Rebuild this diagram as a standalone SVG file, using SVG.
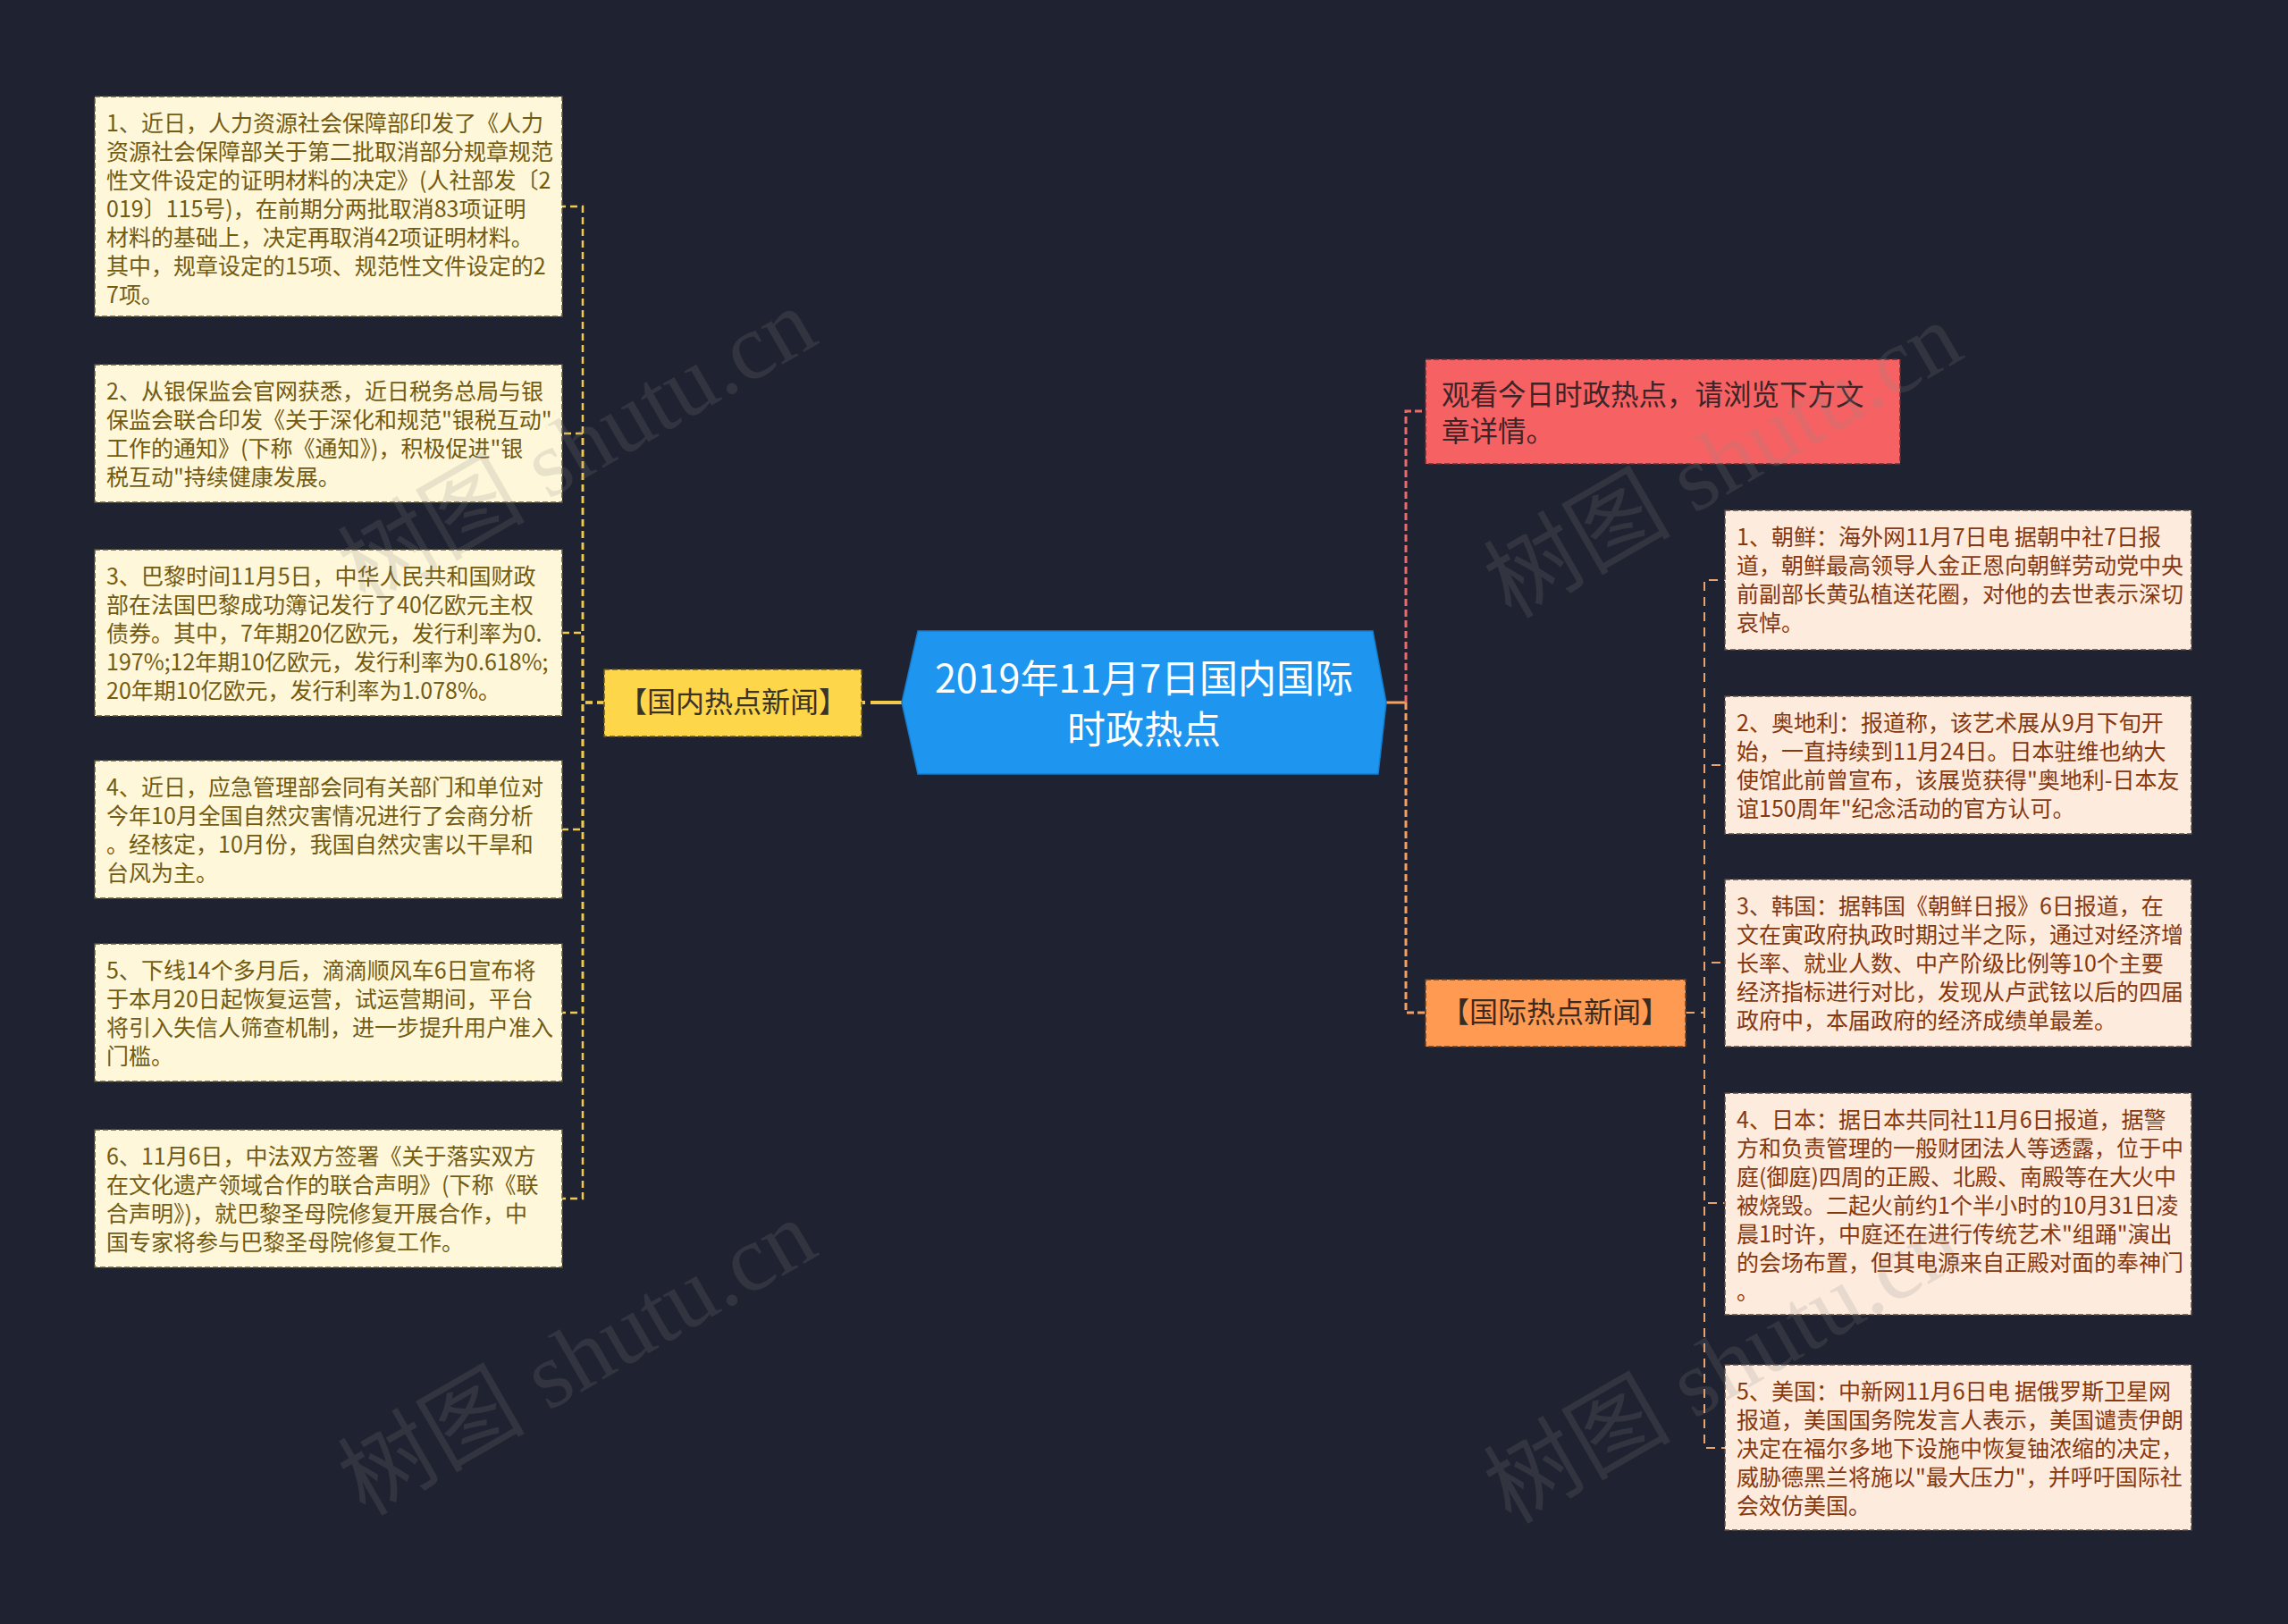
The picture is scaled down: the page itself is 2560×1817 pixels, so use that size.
<svg xmlns="http://www.w3.org/2000/svg" width="2560" height="1817" viewBox="0 0 2560 1817">
<style>
.bg{fill:#1F2230}
.t{font-family:"Noto Sans CJK SC","Noto Sans",sans-serif}
.lbox{fill:#FEF7DA;stroke:#5E5536;stroke-width:1.5;stroke-dasharray:6 3}
.rbox{fill:#FDEBDD;stroke:#5E4A40;stroke-width:1.5;stroke-dasharray:6 3}
.lt{font-size:25px;fill:#735B12}
.rt{font-size:25px;fill:#86380F}
.cl{fill:none;stroke:#F0C94D;stroke-width:2.5;stroke-dasharray:8 5}
.cr{fill:none;stroke:#EE6A6A;stroke-width:3;stroke-dasharray:8 4}
.co{fill:none;stroke:#F4A062;stroke-width:3;stroke-dasharray:8 4}
.cp{fill:none;stroke:#E9A36E;stroke-width:2;stroke-dasharray:10 7}
.wm{font-family:"Liberation Serif","Noto Sans CJK SC",serif;font-size:105px;fill:#8a8a8a;opacity:0.18}
</style>
<rect class="bg" x="0" y="0" width="2560" height="1817"/>

<g id="connectors">
  <line x1="964" y1="786" x2="1009" y2="786" stroke="#F0C94D" stroke-width="4" stroke-dasharray="4 6 40"/>
  <path class="cl" d="M676,786 H652 V231 H629"/>
  <path class="cl" d="M676,786 H652 V485 H629"/>
  <path class="cl" d="M676,786 H652 V708 H629"/>
  <path class="cl" d="M676,786 H652 V928 H629"/>
  <path class="cl" d="M676,786 H652 V1133 H629"/>
  <path class="cl" d="M676,786 H652 V1341 H629"/>
  <line x1="1551" y1="786" x2="1573" y2="786" stroke="#F4A062" stroke-width="3"/>
  <path class="cr" d="M1573,786 V460 H1595"/>
  <path class="co" d="M1573,786 V1133 H1595"/>
  <path class="cp" d="M1886,1133 H1907 V649 H1930"/>
  <path class="cp" d="M1886,1133 H1907 V856 H1930"/>
  <path class="cp" d="M1886,1133 H1907 V1077 H1930"/>
  <path class="cp" d="M1886,1133 H1907 V1346 H1930"/>
  <path class="cp" d="M1886,1133 H1907 V1620 H1930"/>
</g>

<g id="root">
  <polygon points="1027,706 1536,706 1551,786 1542,866 1027,866 1009,786" fill="#1E96F0" stroke="#167CCB" stroke-width="1.5"/>
  <text class="t" x="1280" y="775" font-size="43" fill="#FFFFFF" text-anchor="middle">2019年11月7日国内国际</text>
  <text class="t" x="1280" y="832" font-size="43" fill="#FFFFFF" text-anchor="middle">时政热点</text>
</g>

<g id="domestic">
  <rect x="676" y="749" width="288" height="75" fill="#FDD64A" stroke="#6A5520" stroke-width="1.5" stroke-dasharray="6 3"/>
  <text class="t" x="820" y="797" font-size="32" fill="#3A3326" text-anchor="middle">【国内热点新闻】</text>
</g>

<g id="intro">
  <rect x="1595" y="402" width="531" height="117" fill="#F66264" stroke="#6A3034" stroke-width="1.5" stroke-dasharray="6 3"/>
  <text class="t" font-size="31.5" fill="#3D2427"><tspan x="1613" y="453">观看今日时政热点，请浏览下方文</tspan><tspan x="1613" y="494">章详情。</tspan></text>
</g>

<g id="international">
  <rect x="1595" y="1096" width="291" height="75" fill="#FE9A52" stroke="#6A4020" stroke-width="1.5" stroke-dasharray="6 3"/>
  <text class="t" x="1740" y="1144" font-size="32" fill="#3A2B20" text-anchor="middle">【国际热点新闻】</text>
</g>

<g id="d1">
  <rect class="lbox" x="106" y="108" width="523" height="246"/>
  <text class="t lt"><tspan x="119" y="146.5">1、近日，人力资源社会保障部印发了《人力</tspan><tspan x="119" y="178.5">资源社会保障部关于第二批取消部分规章规范</tspan><tspan x="119" y="210.5">性文件设定的证明材料的决定》(人社部发〔2</tspan><tspan x="119" y="242.5">019〕115号)，在前期分两批取消83项证明</tspan><tspan x="119" y="274.5">材料的基础上，决定再取消42项证明材料。</tspan><tspan x="119" y="306.5">其中，规章设定的15项、规范性文件设定的2</tspan><tspan x="119" y="338.5">7项。</tspan></text>
</g>
<g id="d2">
  <rect class="lbox" x="106" y="408" width="523" height="154"/>
  <text class="t lt"><tspan x="119" y="446.5">2、从银保监会官网获悉，近日税务总局与银</tspan><tspan x="119" y="478.5">保监会联合印发《关于深化和规范"银税互动"</tspan><tspan x="119" y="510.5">工作的通知》(下称《通知》)，积极促进"银</tspan><tspan x="119" y="542.5">税互动"持续健康发展。</tspan></text>
</g>
<g id="d3">
  <rect class="lbox" x="106" y="615" width="523" height="186"/>
  <text class="t lt"><tspan x="119" y="653.5">3、巴黎时间11月5日，中华人民共和国财政</tspan><tspan x="119" y="685.5">部在法国巴黎成功簿记发行了40亿欧元主权</tspan><tspan x="119" y="717.5">债券。其中，7年期20亿欧元，发行利率为0.</tspan><tspan x="119" y="749.5">197%;12年期10亿欧元，发行利率为0.618%;</tspan><tspan x="119" y="781.5">20年期10亿欧元，发行利率为1.078%。</tspan></text>
</g>
<g id="d4">
  <rect class="lbox" x="106" y="851" width="523" height="154"/>
  <text class="t lt"><tspan x="119" y="889.5">4、近日，应急管理部会同有关部门和单位对</tspan><tspan x="119" y="921.5">今年10月全国自然灾害情况进行了会商分析</tspan><tspan x="119" y="953.5">。经核定，10月份，我国自然灾害以干旱和</tspan><tspan x="119" y="985.5">台风为主。</tspan></text>
</g>
<g id="d5">
  <rect class="lbox" x="106" y="1056" width="523" height="154"/>
  <text class="t lt"><tspan x="119" y="1094.5">5、下线14个多月后，滴滴顺风车6日宣布将</tspan><tspan x="119" y="1126.5">于本月20日起恢复运营，试运营期间，平台</tspan><tspan x="119" y="1158.5">将引入失信人筛查机制，进一步提升用户准入</tspan><tspan x="119" y="1190.5">门槛。</tspan></text>
</g>
<g id="d6">
  <rect class="lbox" x="106" y="1264" width="523" height="154"/>
  <text class="t lt"><tspan x="119" y="1302.5">6、11月6日，中法双方签署《关于落实双方</tspan><tspan x="119" y="1334.5">在文化遗产领域合作的联合声明》(下称《联</tspan><tspan x="119" y="1366.5">合声明》)，就巴黎圣母院修复开展合作，中</tspan><tspan x="119" y="1398.5">国专家将参与巴黎圣母院修复工作。</tspan></text>
</g>

<g id="i1">
  <rect class="rbox" x="1930" y="571" width="522" height="156"/>
  <text class="t rt"><tspan x="1943" y="609.5">1、朝鲜：海外网11月7日电 据朝中社7日报</tspan><tspan x="1943" y="641.5">道，朝鲜最高领导人金正恩向朝鲜劳动党中央</tspan><tspan x="1943" y="673.5">前副部长黄弘植送花圈，对他的去世表示深切</tspan><tspan x="1943" y="705.5">哀悼。</tspan></text>
</g>
<g id="i2">
  <rect class="rbox" x="1930" y="779" width="522" height="154"/>
  <text class="t rt"><tspan x="1943" y="817.5">2、奥地利：报道称，该艺术展从9月下旬开</tspan><tspan x="1943" y="849.5">始，一直持续到11月24日。日本驻维也纳大</tspan><tspan x="1943" y="881.5">使馆此前曾宣布，该展览获得"奥地利-日本友</tspan><tspan x="1943" y="913.5">谊150周年"纪念活动的官方认可。</tspan></text>
</g>
<g id="i3">
  <rect class="rbox" x="1930" y="984" width="522" height="187"/>
  <text class="t rt"><tspan x="1943" y="1022.5">3、韩国：据韩国《朝鲜日报》6日报道，在</tspan><tspan x="1943" y="1054.5">文在寅政府执政时期过半之际，通过对经济增</tspan><tspan x="1943" y="1086.5">长率、就业人数、中产阶级比例等10个主要</tspan><tspan x="1943" y="1118.5">经济指标进行对比，发现从卢武铉以后的四届</tspan><tspan x="1943" y="1150.5">政府中，本届政府的经济成绩单最差。</tspan></text>
</g>
<g id="i4">
  <rect class="rbox" x="1930" y="1223" width="522" height="248"/>
  <text class="t rt"><tspan x="1943" y="1261.5">4、日本：据日本共同社11月6日报道，据警</tspan><tspan x="1943" y="1293.5">方和负责管理的一般财团法人等透露，位于中</tspan><tspan x="1943" y="1325.5">庭(御庭)四周的正殿、北殿、南殿等在大火中</tspan><tspan x="1943" y="1357.5">被烧毁。二起火前约1个半小时的10月31日凌</tspan><tspan x="1943" y="1389.5">晨1时许，中庭还在进行传统艺术"组踊"演出</tspan><tspan x="1943" y="1421.5">的会场布置，但其电源来自正殿对面的奉神门</tspan><tspan x="1943" y="1453.5">。</tspan></text>
</g>
<g id="i5">
  <rect class="rbox" x="1930" y="1527" width="522" height="185"/>
  <text class="t rt"><tspan x="1943" y="1565.5">5、美国：中新网11月6日电 据俄罗斯卫星网</tspan><tspan x="1943" y="1597.5">报道，美国国务院发言人表示，美国谴责伊朗</tspan><tspan x="1943" y="1629.5">决定在福尔多地下设施中恢复铀浓缩的决定，</tspan><tspan x="1943" y="1661.5">威胁德黑兰将施以"最大压力"，并呼吁国际社</tspan><tspan x="1943" y="1693.5">会效仿美国。</tspan></text>
</g>

<g id="watermarks">
  <text class="wm" x="645" y="535" text-anchor="middle" transform="rotate(-30 645 498)">树图 shutu.cn</text>
  <text class="wm" x="1927" y="551" text-anchor="middle" transform="rotate(-30 1927 514)">树图 shutu.cn</text>
  <text class="wm" x="645" y="1555" text-anchor="middle" transform="rotate(-30 645 1518)">树图 shutu.cn</text>
  <text class="wm" x="1927" y="1564" text-anchor="middle" transform="rotate(-30 1927 1527)">树图 shutu.cn</text>
</g>
</svg>
